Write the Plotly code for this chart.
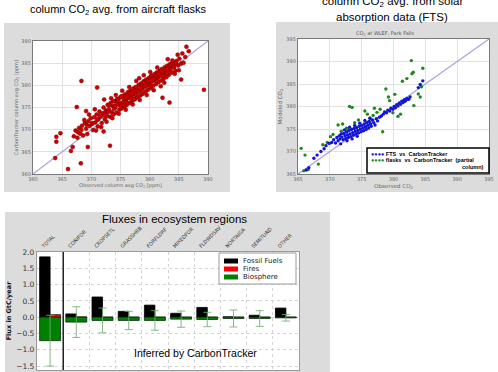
import plotly.graph_objects as go

W, H = 498, 372

# ---------------- data ----------------
# Panel 1: column CO2 avg from aircraft flasks (observed vs CarbonTracker)
aircraft_obs = [
    386.3, 386.7, 389.3, 385.4, 383.4, 382.2, 368.3, 371.0, 367.5, 369.1,
    364.0, 364.0, 364.7, 363.8, 366.0, 368.2, 366.5, 366.8, 369.4, 373.2,
    372.1, 372.2, 380.3, 378.2,
    367.0, 367.3, 367.6, 367.9, 368.1, 368.4, 368.6, 368.9, 369.1, 369.3,
    369.5, 369.7, 369.9, 370.1, 370.3, 370.5, 370.7, 370.9, 371.1, 371.2,
    371.4, 371.6, 371.8, 372.0, 372.1, 372.3, 372.5, 372.7, 372.8, 373.0,
    373.2, 373.3, 373.5, 373.7, 373.8, 374.0, 374.1, 374.3, 374.4, 374.6,
    374.8, 374.9, 375.1, 375.2, 375.4, 375.5, 375.7, 375.8, 376.0, 376.1,
    376.3, 376.4, 376.6, 376.7, 376.9, 377.0, 377.2, 377.3, 377.5, 377.6,
    377.8, 377.9, 378.1, 378.2, 378.4, 378.5, 378.7, 378.8, 379.0, 379.1,
    379.3, 379.4, 379.6, 379.7, 379.9, 380.0, 380.2, 380.3, 380.5, 380.6,
    380.8, 380.9, 381.1, 381.2, 381.4, 381.5, 381.7, 381.8, 382.0, 382.1,
    382.3, 382.4, 382.6, 382.7, 382.9, 383.0, 383.2, 383.3, 383.5, 383.6,
    383.8, 384.0, 384.2, 384.4, 384.6, 384.9, 385.1, 385.4,
    371.5, 372.4, 373.1, 373.9, 374.5, 375.0, 375.6, 376.2, 376.8, 377.4,
    377.9, 378.6, 379.2, 379.8, 380.4, 381.0, 381.6, 382.2, 382.8, 383.4,
    384.1, 383.9, 381.3, 380.1, 379.0, 377.7, 376.5, 375.3, 374.2, 373.4,
    370.6, 369.6, 368.8, 382.5, 381.9, 380.7, 379.5, 378.3, 377.1, 375.9,
    374.7, 373.6, 372.6, 371.7, 370.8, 384.3, 385.0, 385.8, 386.1, 383.1,
    384.8, 385.6,
    374.6, 375.9, 377.0, 378.0, 379.3, 380.6, 381.8, 383.0, 376.6, 377.6,
    378.9, 380.0, 381.2, 382.3, 383.6, 384.5, 372.9, 372.2, 373.7, 375.1,
    376.0, 377.3, 378.7, 380.1, 381.4, 382.9, 379.7, 378.4, 375.4, 374.0,
    371.0, 370.2, 369.2, 368.3, 367.7,
]
aircraft_model = [
    388.7, 387.7, 379.0, 381.3, 376.1, 377.2, 381.0, 379.5, 375.1, 374.2,
    368.4, 367.3, 369.2, 363.6, 361.1, 362.4, 365.2, 366.1, 366.1, 366.4,
    369.6, 376.8, 382.2, 381.6,
    368.5, 369.8, 368.2, 370.4, 369.1, 370.9, 368.7, 371.5, 370.2, 369.0,
    371.9, 370.8, 372.6, 371.3, 369.9, 372.8, 371.6, 373.4, 370.7, 372.3,
    374.1, 372.9, 371.5, 373.7, 375.0, 372.4, 374.3, 373.1, 375.6, 374.6,
    372.9, 376.0, 374.0, 375.3, 373.4, 376.4, 375.0, 373.8, 376.9, 375.6,
    374.5, 377.2, 376.0, 374.8, 377.6, 376.3, 375.2, 378.0, 376.8, 375.6,
    378.5, 377.2, 376.0, 378.8, 377.6, 376.5, 379.3, 378.0, 376.9, 379.6,
    378.4, 377.3, 380.1, 378.9, 377.7, 380.4, 379.2, 378.1, 380.9, 379.7,
    378.6, 381.3, 380.0, 379.0, 381.7, 380.5, 379.4, 382.0, 380.9, 379.9,
    382.5, 381.3, 380.3, 382.9, 381.7, 380.7, 383.3, 382.1, 381.1, 383.7,
    382.5, 381.5, 384.1, 382.9, 381.9, 384.4, 383.3, 382.4, 384.8, 383.7,
    382.9, 385.2, 384.1, 383.3, 385.5, 384.5, 386.0, 384.9,
    373.2, 373.9, 375.5, 374.7, 375.9, 375.4, 377.0, 377.7, 377.1, 378.7,
    379.0, 379.8, 380.4, 380.2, 381.4, 381.9, 382.3, 383.1, 383.6, 384.0,
    384.7, 385.6, 384.0, 383.0, 382.3, 381.0, 379.6, 378.8, 377.8, 377.1,
    374.6, 373.4, 372.2, 380.6, 379.8, 378.9, 377.8, 376.7, 375.7, 374.5,
    373.6, 372.6, 371.8, 370.6, 369.8, 382.6, 383.4, 385.1, 386.4, 385.9,
    386.9, 387.2,
    376.7, 377.3, 378.2, 378.6, 379.9, 381.6, 383.0, 383.9, 378.2, 377.9,
    380.7, 381.2, 381.0, 382.1, 384.6, 385.0, 374.0, 373.3, 376.4, 377.5,
    376.2, 376.8, 378.2, 379.8, 382.6, 382.7, 381.0, 379.5, 375.6, 375.4,
    372.3, 371.5, 371.1, 369.9, 369.4,
]

# Panel 2: CO2 at WLEF, Park Falls
fts_obs = [
    366.3, 366.7, 367.5, 368.0, 368.6, 369.1, 369.4, 369.9, 370.3, 370.6,
    370.9, 371.1, 371.3, 371.5, 371.6, 371.8, 371.9, 372.1, 372.2, 372.4,
    372.5, 372.6, 372.8, 372.9, 373.0, 373.2, 373.3, 373.4, 373.6, 373.7,
    373.8, 374.0, 374.1, 374.2, 374.4, 374.5, 374.6, 374.8, 374.9, 375.0,
    375.2, 375.3, 375.4, 375.6, 375.7, 375.8, 376.0, 376.1, 376.2, 376.4,
    376.5, 376.7, 376.9, 377.1, 377.3, 377.5, 377.8, 378.1, 378.4, 378.6,
    378.9, 379.1, 379.4, 379.6, 379.9, 380.1, 380.3, 380.5, 380.7, 380.9,
    381.1, 381.3, 381.5, 381.7, 381.9, 382.1, 382.4, 382.6, 383.9, 384.2,
    384.6, 372.3, 373.1, 373.9, 374.7, 375.5, 376.3, 371.7, 372.7, 373.5,
    374.3,
]
fts_model = [
    365.9, 366.4, 368.5, 369.2, 370.0, 370.6, 371.3, 371.8, 372.0, 372.6,
    371.9, 373.1, 372.4, 373.5, 372.8, 373.9, 373.2, 372.6, 374.0, 373.5,
    372.9, 374.3, 373.7, 373.1, 374.6, 373.9, 373.3, 374.9, 374.2, 373.6,
    375.1, 374.5, 373.9, 375.3, 374.7, 374.1, 375.6, 375.0, 374.4, 375.8,
    375.2, 374.6, 376.1, 375.5, 374.9, 376.4, 375.8, 375.2, 376.7, 376.1,
    375.6, 377.0, 376.4, 375.9, 377.3, 376.8, 377.6, 377.9, 378.3, 378.8,
    378.6, 379.2, 379.0, 379.6, 379.4, 380.0, 379.7, 380.4, 380.1, 380.8,
    380.5, 381.2, 380.9, 381.5, 381.3, 381.8, 381.6, 382.1, 384.2, 384.9,
    385.7, 374.8, 375.4, 375.8, 376.3, 376.9, 377.4, 371.7, 372.4, 372.8,
    373.4,
]
flask_obs = [
    365.5, 366.1, 368.2, 365.9, 366.6, 370.1, 370.5, 371.3, 372.0, 372.6,
    373.1, 373.5, 373.9, 374.5, 375.5, 375.5, 375.9, 376.3, 376.8, 377.4,
    377.9, 378.3, 378.8, 379.4, 379.9, 380.7, 381.1, 381.8, 382.2, 381.4,
    382.1, 382.8, 383.1, 382.9, 383.9, 384.2, 384.6, 384.4, 383.2, 380.2,
    379.2, 376.1, 377.0, 374.0, 372.8, 371.8, 369.6, 368.9,
]
flask_model = [
    370.7, 369.2, 367.2, 365.7, 366.0, 373.3, 373.8, 375.9, 376.1, 375.2,
    380.0, 379.8, 376.4, 377.0, 375.5, 379.0, 378.3, 377.4, 378.0, 378.7,
    379.4, 374.4, 383.9, 381.3, 378.6, 377.8, 378.3, 381.1, 381.6, 385.6,
    386.2, 390.2, 387.6, 387.3, 382.8, 382.1, 388.5, 384.4, 380.2, 382.7,
    382.1, 376.6, 379.6, 375.3, 374.9, 374.5, 372.0, 371.5,
]
one_to_one_a = [360, 390]
one_to_one_b = [365, 395]
ticks_a = [360, 365, 370, 375, 380, 385, 390]
ticks_b = [365, 370, 375, 380, 385, 390, 395]

# Panel 3: fluxes in ecosystem regions (GtC/year)
regions = ["TOTAL", "CONIFOR", "CROPSETL", "GRASSHRB", "FORFLDRF",
           "MIXEDFOR", "FLDWDSAV", "NORTAIGA", "SEMITUND", "OTHER"]
fossil = [1.85, 0.10, 0.62, 0.18, 0.37, 0.12, 0.30, 0.01, 0.06, 0.28]
fires = [0.08, 0.01, 0.0, 0.0, 0.0, 0.0, 0.0, 0.0, 0.0, 0.0]
biosphere = [-0.72, -0.15, -0.10, -0.10, -0.10, -0.06, -0.07, -0.04, -0.04, -0.02]
biosphere_err = [0.78, 0.47, 0.38, 0.28, 0.30, 0.25, 0.22, 0.26, 0.24, 0.10]
flux_ticks = [-1.5, -1.0, -0.5, 0.0, 0.5, 1.0, 1.5, 2.0]
legend_names = ["Fossil Fuels", "Fires", "Biosphere"]
legend_colors = ["#000000", "#ff0000", "#008000"]


def px(x):
    return x / W


def py(y):
    return 1 - y / H


idx = list(range(len(regions)))

fig = go.Figure()

# ---- panel 1 ----
fig.add_trace(go.Scatter(x=one_to_one_a, y=one_to_one_a, mode="lines",
                         line=dict(color="#a3a3e6", width=1.2),
                         xaxis="x", yaxis="y", showlegend=False, hoverinfo="skip"))
fig.add_trace(go.Scatter(x=aircraft_obs, y=aircraft_model, mode="markers",
                         marker=dict(size=4, color="#d00000",
                                     line=dict(color="#7a0000", width=0.5)),
                         xaxis="x", yaxis="y", showlegend=False))

# ---- panel 2 ----
fig.add_trace(go.Scatter(x=one_to_one_b, y=one_to_one_b, mode="lines",
                         line=dict(color="#a3a3e6", width=1.2),
                         xaxis="x2", yaxis="y2", showlegend=False, hoverinfo="skip"))
fig.add_trace(go.Scatter(x=flask_obs, y=flask_model, mode="markers",
                         marker=dict(size=3.4, color="#1e8a1e"),
                         xaxis="x2", yaxis="y2", showlegend=False))
fig.add_trace(go.Scatter(x=fts_obs, y=fts_model, mode="markers",
                         marker=dict(size=3.4, color="#1414d8"),
                         xaxis="x2", yaxis="y2", showlegend=False))

# ---- panel 3 ----
fig.add_trace(go.Bar(x=[i - 0.2 for i in idx], y=fossil, width=0.4,
                     marker=dict(color="#000000", line=dict(color="#000000", width=0.8)),
                     xaxis="x3", yaxis="y3", name="Fossil Fuels", showlegend=False))
fig.add_trace(go.Bar(x=[i + 0.2 for i in idx], y=fires, width=0.4,
                     marker=dict(color="#ff0000", line=dict(color="#000000", width=0.6)),
                     xaxis="x3", yaxis="y3", name="Fires", showlegend=False))
fig.add_trace(go.Bar(x=idx, y=biosphere, width=0.8,
                     marker=dict(color="#008000", line=dict(color="#0a2a0a", width=0.8)),
                     error_y=dict(type="data", array=biosphere_err, visible=True,
                                  color="rgba(110,175,110,0.85)", thickness=1, width=4),
                     xaxis="x3", yaxis="y3", name="Biosphere", showlegend=False))

scatter_axis = dict(showgrid=True, gridcolor="#e2e2e2", gridwidth=1,
                    showline=True, linecolor="#7a7a7a", linewidth=1.3, mirror=True,
                    zeroline=False, ticks="", automargin=False,
                    tickfont=dict(size=5, color="#666666", family="DejaVu Sans"))

fig.update_layout(
    width=W, height=H,
    margin=dict(l=0, r=0, t=0, b=0, pad=0),
    paper_bgcolor="white", plot_bgcolor="white",
    font=dict(family="Liberation Sans, Arial, sans-serif", color="#000"),
    barmode="overlay",
    showlegend=False,
    xaxis=dict(scatter_axis, domain=[px(33), px(208)], range=[360, 390],
               tickvals=ticks_a, anchor="y",
               title=dict(text="Observed column avg CO<sub>2</sub> [ppm]",
                          font=dict(size=5, color="#666", family="DejaVu Sans"), standoff=2)),
    yaxis=dict(scatter_axis, domain=[py(174), py(41)], range=[360, 390],
               tickvals=ticks_a, anchor="x",
               title=dict(text="CarbonTracker column avg CO<sub>2</sub> [ppm]",
                          font=dict(size=5, color="#666", family="DejaVu Sans"), standoff=2)),
    xaxis2=dict(scatter_axis, domain=[px(298), px(489)], range=[365, 395],
                tickvals=ticks_b, anchor="y2",
                title=dict(text="Observed CO<sub>2</sub>",
                           font=dict(size=5.5, color="#666", family="DejaVu Sans"), standoff=2)),
    yaxis2=dict(scatter_axis, domain=[py(174), py(39)], range=[365, 395],
                tickvals=ticks_b, anchor="x2",
                title=dict(text="Modeled CO<sub>2</sub>",
                           font=dict(size=5.5, color="#666", family="DejaVu Sans"), standoff=3)),
    xaxis3=dict(domain=[px(37), px(299)], range=[-0.5, len(regions) - 0.5],
                anchor="y3", side="top", automargin=False,
                tickmode="array", tickvals=[i - 0.3 for i in idx], ticktext=regions,
                tickangle=-45, ticks="",
                tickfont=dict(size=5, color="#333", family="DejaVu Sans"),
                showgrid=False, zeroline=False,
                showline=True, linecolor="#9a9a9a", linewidth=1.2, mirror=True,
                minor=dict(tickvals=[i + 0.5 for i in idx], showgrid=True,
                           gridcolor="#d4d4d4", griddash="dot", gridwidth=1, ticks="")),
    yaxis3=dict(domain=[py(370), py(252)], range=[-1.62, 2.0], anchor="x3",
                automargin=False,
                tickmode="array", tickvals=flux_ticks, tickformat=".1f", ticks="",
                tickfont=dict(size=7.5, color="#333", family="DejaVu Sans"),
                showgrid=True, gridcolor="#d4d4d4", griddash="dot", zeroline=False,
                showline=True, linecolor="#9a9a9a", linewidth=1.2, mirror=True,
                title=dict(text="<b>Flux in GtC/year</b>",
                           font=dict(size=6.5, color="#111", family="DejaVu Sans"), standoff=3)),
)

shapes = []
# gray panel backgrounds
gray = "#dcdcdc"
for (x0, y0, x1, y1) in [(4, 23, 230, 192), (276, 22, 498, 192), (5, 212, 330, 372)]:
    shapes.append(dict(type="rect", xref="paper", yref="paper",
                       x0=px(x0), x1=px(x1), y0=py(y1), y1=py(y0),
                       fillcolor=gray, line=dict(width=0), layer="below"))
# white plot areas
for (x0, y0, x1, y1) in [(33, 41, 208, 174), (298, 39, 489, 174), (37, 252, 299, 370)]:
    shapes.append(dict(type="rect", xref="paper", yref="paper",
                       x0=px(x0), x1=px(x1), y0=py(y1), y1=py(y0),
                       fillcolor="white", line=dict(width=0), layer="below"))
# separator between TOTAL and the regions
shapes.append(dict(type="line", xref="x3", yref="y3 domain", x0=0.5, x1=0.5, y0=0, y1=1,
                   line=dict(color="black", width=1.3), layer="above"))
# panel 3 legend box + swatches
shapes.append(dict(type="rect", xref="paper", yref="paper",
                   x0=px(219), x1=px(296), y0=py(284), y1=py(253),
                   fillcolor="white", line=dict(color="#9a9a9a", width=1), layer="above"))
for k, c in enumerate(legend_colors):
    yc = 261 + 8 * k
    shapes.append(dict(type="rect", xref="paper", yref="paper",
                       x0=px(224), x1=px(238), y0=py(yc + 2.5), y1=py(yc - 2.5),
                       fillcolor=c, line=dict(width=0), layer="above"))
# panel 2 legend box
shapes.append(dict(type="rect", xref="paper", yref="paper",
                   x0=px(367), x1=px(489), y0=py(173), y1=py(148),
                   fillcolor="white", line=dict(color="black", width=1.5), layer="above"))
fig.update_layout(shapes=shapes)

ann = []
ann.append(dict(text="column CO<sub>2</sub> avg. from aircraft flasks", x=px(118), y=py(10),
                font=dict(size=11)))
ann.append(dict(text="column CO<sub>2</sub> avg. from solar", x=px(392), y=py(2),
                font=dict(size=11.5)))
ann.append(dict(text="absorption data (FTS)", x=px(392), y=py(17), font=dict(size=11.5)))
ann.append(dict(text="CO<sub>2</sub> at WLEF, Park Falls", x=px(385), y=py(33),
                font=dict(size=5, color="#555", family="DejaVu Sans")))
ann.append(dict(text="Fluxes in ecosystem regions", x=px(174), y=py(219), font=dict(size=11.5)))
ann.append(dict(text="Inferred by CarbonTracker", x=px(195), y=py(353), font=dict(size=10.5)))
for k, name in enumerate(legend_names):
    ann.append(dict(text=name, x=px(241), y=py(261 + 8 * k), xanchor="left",
                    font=dict(size=7, color="#222", family="DejaVu Sans")))
ann.append(dict(text="<span style='color:#1414d8'>●●●●</span> <b>FTS  vs  CarbonTracker</b>",
                x=px(369), y=py(153.5), xanchor="left",
                font=dict(size=5.5, family="Liberation Sans, Arial, sans-serif")))
ann.append(dict(text="<span style='color:#1e8a1e'>●●●●</span> <b>flasks  vs  CarbonTracker  (partial</b>",
                x=px(369), y=py(160.5), xanchor="left",
                font=dict(size=5.5, family="Liberation Sans, Arial, sans-serif")))
ann.append(dict(text="<b>column)</b>", x=px(486), y=py(167.5), xanchor="right",
                font=dict(size=5.5, family="Liberation Sans, Arial, sans-serif")))
for a in ann:
    a.setdefault("xref", "paper")
    a.setdefault("yref", "paper")
    a.setdefault("showarrow", False)
    a.setdefault("xanchor", "center")
    a.setdefault("yanchor", "middle")
fig.update_layout(annotations=ann)

fig.write_html("out.html", config={"displayModeBar": False},
               post_script="document.body.style.margin='0';document.body.style.overflow='hidden';")
